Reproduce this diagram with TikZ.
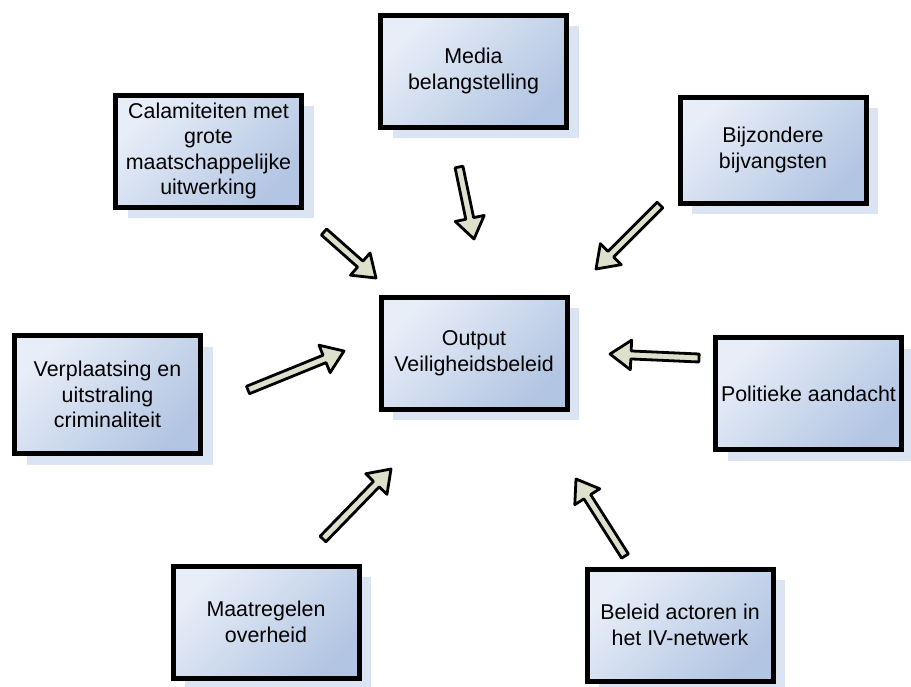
\documentclass[tikz,border=0pt]{standalone}
\usepackage{fontspec}
\setmainfont{Liberation Sans}
\usetikzlibrary{calc,shadows}
\definecolor{boxlight}{RGB}{232,238,248}
\definecolor{boxdark}{RGB}{178,197,226}
\definecolor{shadowblue}{RGB}{218,228,242}
\definecolor{flowfill}{RGB}{221,224,203}
\tikzset{
  factor/.style={draw, line width=2.5pt, rectangle, align=center,
    minimum width=93pt, minimum height=56pt, inner sep=2pt,
    top color=boxlight, bottom color=boxdark, shading angle=45,
    font=\fontsize{10.7}{12.8}\selectfont,
    drop shadow={shadow xshift=6pt, shadow yshift=-5.5pt, fill=shadowblue, opacity=1}},
  flow/.style={draw, line width=1.4pt, line join=round, fill=flowfill},
}
% block arrow from tail #1 to tip #2
\newcommand\blockarrow[2]{%
  \coordinate (neck) at ($(#2)!10.5pt!(#1)$);
  \draw[flow] ($(#1)!2pt!90:(#2)$) -- ($(neck)!2pt!-90:(#1)$)
    -- ($(neck)!7.4pt!-90:(#1)$) -- (#2) -- ($(neck)!7.4pt!90:(#1)$)
    -- ($(neck)!2pt!90:(#1)$) -- ($(#1)!2pt!-90:(#2)$) -- cycle;}

\begin{document}
\begin{tikzpicture}[x=0.5pt, y=-0.5pt]
  \useasboundingbox (0,0) rectangle (911,686);

  \node[factor] (out) at (474,353)   {Output\\Veiligheidsbeleid};
  \node[factor] (med) at (473.5,71)  {Media\\belangstelling};
  \node[factor] (cal) at (208.5,151) {Calamiteiten met\\grote\\maatschappelijke\\uitwerking};
  \node[factor, minimum height=53pt] (bij) at (773,150) {Bijzondere\\bijvangsten};
  \node[factor, minimum height=59pt] (ver) at (107.5,394.5) {Verplaatsing en\\uitstraling\\criminaliteit};
  \node[factor] (pol) at (808.5,393.5) {Politieke aandacht};
  \node[factor] (maa) at (266,622)   {Maatregelen\\overheid};
  \node[factor] (bel) at (680,625)   {Beleid actoren in\\het IV-netwerk};

  % tails and tips of the arrows
  \coordinate (cal-t) at (324,232); \coordinate (cal-h) at (376,278);
  \coordinate (med-t) at (459,167); \coordinate (med-h) at (474,239);
  \coordinate (bij-t) at (660,205); \coordinate (bij-h) at (596,269);
  \coordinate (ver-t) at (248,390); \coordinate (ver-h) at (344,351);
  \coordinate (pol-t) at (699,358); \coordinate (pol-h) at (610,354);
  \coordinate (maa-t) at (323,539); \coordinate (maa-h) at (391,469);
  \coordinate (bel-t) at (625,556); \coordinate (bel-h) at (576,479);

  \foreach \n in {cal,med,bij,ver,pol,maa,bel}
    \blockarrow{\n-t}{\n-h};
\end{tikzpicture}
\end{document}
